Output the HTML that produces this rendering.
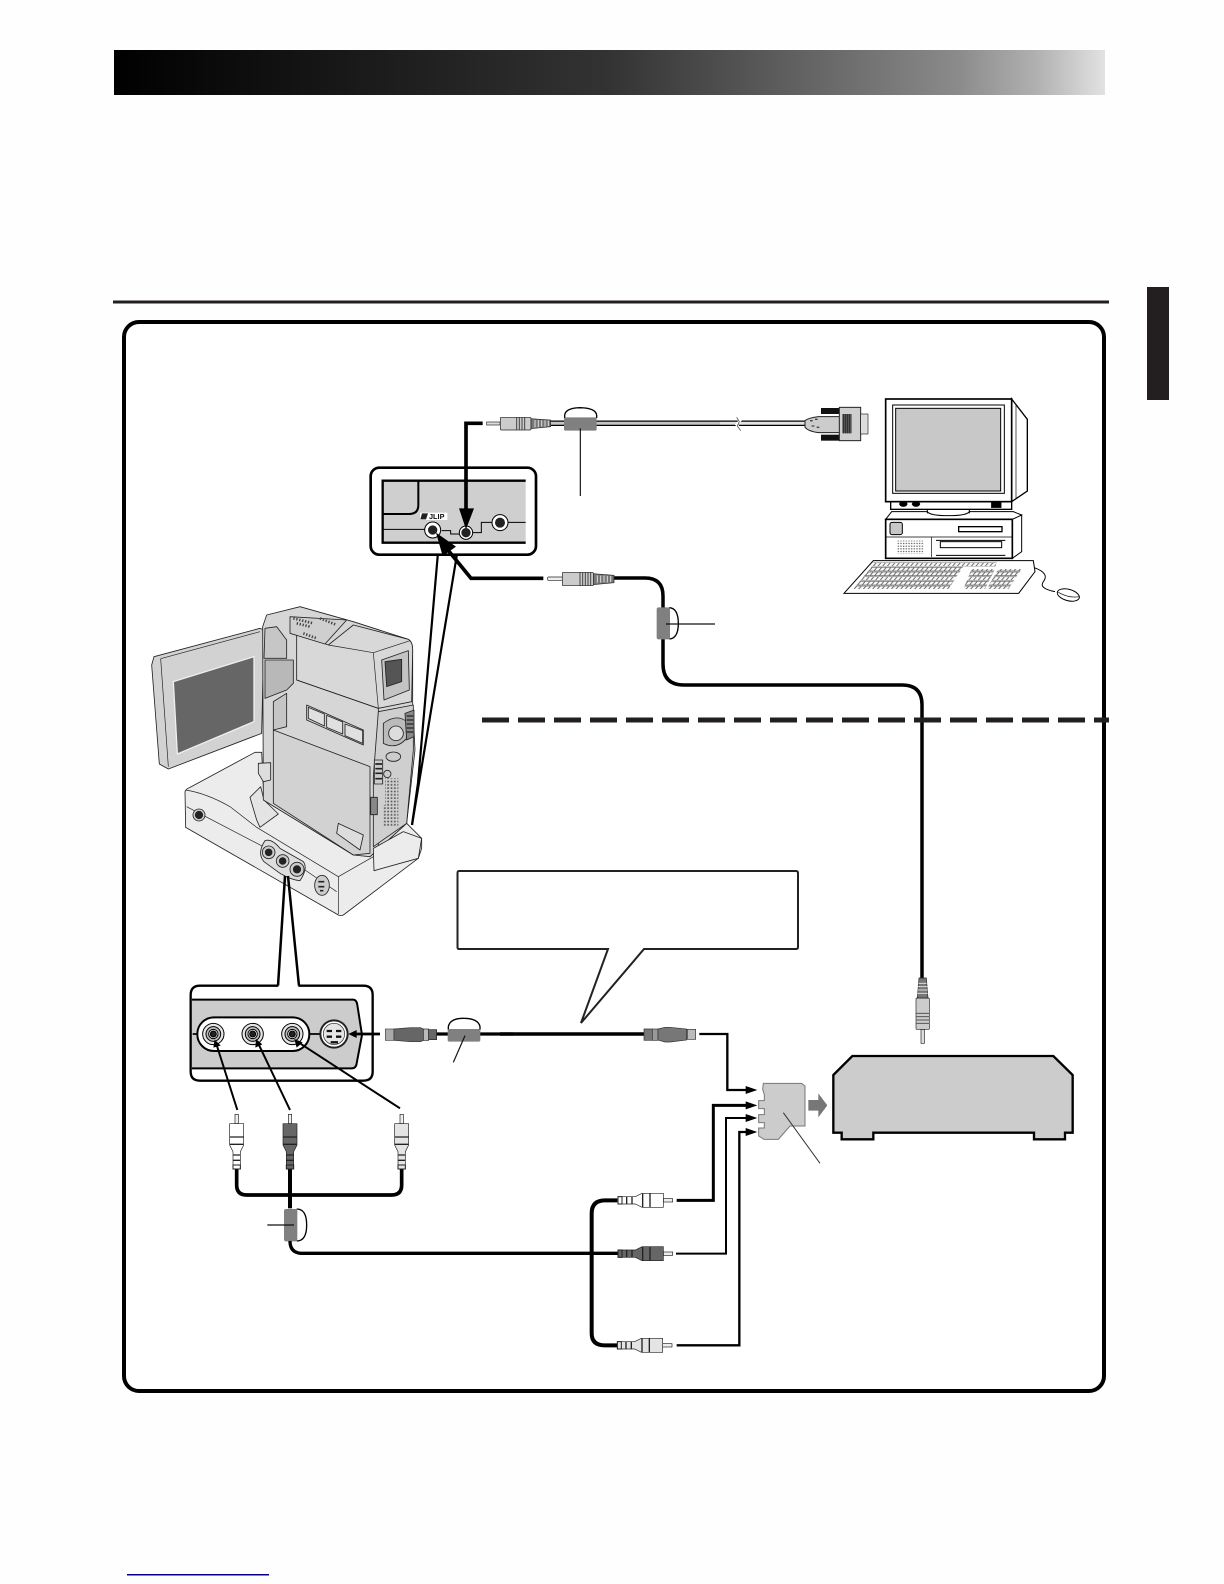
<!DOCTYPE html>
<html><head><meta charset="utf-8"><style>
html,body{margin:0;padding:0;background:#fff}
svg{display:block}
</style></head><body>
<svg width="1224" height="1584" viewBox="0 0 1224 1584" xmlns="http://www.w3.org/2000/svg" font-family="Liberation Sans, sans-serif">
<defs>
<linearGradient id="hg" x1="0" x2="1" y1="0" y2="0"><stop offset="0" stop-color="#000"/><stop offset=".25" stop-color="#1a1a1a"/><stop offset=".5" stop-color="#333"/><stop offset=".62" stop-color="#505050"/><stop offset=".75" stop-color="#707070"/><stop offset=".85" stop-color="#8a8a8a"/><stop offset=".93" stop-color="#b0b0b0"/><stop offset="1" stop-color="#e2e2e2"/></linearGradient>
<pattern id="keys" width="14" height="14" patternUnits="userSpaceOnUse" patternTransform="skewX(-40)"><rect width="14" height="14" fill="#fff"/><rect x="1" y="1" width="12" height="11" fill="#f8f8f8" stroke="#444" stroke-width="1.500"/></pattern>
<pattern id="vent" width="8" height="8" patternUnits="userSpaceOnUse"><rect x="1" y="2" width="4" height="3" fill="#444"/></pattern>
<pattern id="spk" width="10" height="10" patternUnits="userSpaceOnUse"><rect x="2" y="2" width="5" height="5" fill="#555"/></pattern>
<g id="rca" stroke="#222" stroke-width="2">
<rect x="-5" y="0" width="10" height="28" fill="#eee"/>
<path d="M-21 28H21V92L11 112V164H-11V112L-21 92Z"/>
<path d="M-21 68H21M-20 90H20" fill="none" stroke-width="4"/>
<path d="M-11 122H11M-11 138H11" fill="none" stroke-width="4"/>
<rect x="-11" y="152" width="22" height="12" fill="none" stroke-width="3"/>
</g>
<g id="mj" stroke="#222" stroke-width="2">
<rect x="-5" y="0" width="10" height="42" fill="#ddd"/>
<rect x="-20" y="42" width="40" height="94" rx="3" fill="#ccc"/>
<path d="M-20 60H20M-20 70H20M-20 80H20M-20 90H20" stroke="#555" stroke-width="3" fill="none"/>
<path d="M-16 136H16L11 196H-11Z" fill="#777"/>
<path d="M-15 150H15M-14 160H14M-14 170H14M-12 180H12" stroke="#ddd" stroke-width="3"/>
</g>
</defs>

<rect width="1224" height="1584" fill="#fefefe"/>
<rect x="114" y="50" width="991" height="45" fill="url(#hg)"/>
<rect x="113" y="300.500" width="996" height="3" fill="#231f20"/>
<rect x="1147" y="287" width="22" height="113" fill="#231f20"/>
<rect x="124" y="322" width="980" height="1069" rx="15" fill="#fff" stroke="#000" stroke-width="4"/>
<rect x="127" y="1574" width="142" height="1.500" fill="#00008b"/>

<!-- long cable from mid plug to VCR -->
<path d="M614 578H645Q663 578 663 596V664Q663 685 684 685H902Q922 685 922 705V978" fill="none" stroke="#000" stroke-width="3.500"/>
<path d="M482 720H1109" stroke="#231f20" stroke-width="5" stroke-dasharray="27 9" fill="none"/>

<!-- top cable -->
<path d="M550 423.300H805" stroke="#000" stroke-width="5.500"/>
<path d="M550 423.300H720" stroke="#c4c4c4" stroke-width="3"/>
<path d="M720 423.300H805" stroke="#e2e2e2" stroke-width="3"/>

<!-- Zoom 2 group -->
<g transform="translate(360 390) scale(.33333)">
<rect x="32" y="233" width="496" height="261" rx="26" fill="#fff" stroke="#000" stroke-width="8"/>
<path d="M497 272H68V458H497Z" fill="#cfcfcf"/>
<path d="M497 272H68V458H497" fill="none" stroke="#000" stroke-width="7"/>
<path d="M175 272V345Q175 372 148 372H68" fill="none" stroke="#000" stroke-width="6"/>
<path d="M68 418H195M245 422H272V432H298M338 428H364V397H397M445 397H497" fill="none" stroke="#000" stroke-width="3"/>
<circle cx="218" cy="420" r="24" fill="#fff" stroke="#000" stroke-width="3"/><circle cx="218" cy="420" r="14" fill="#222"/>
<circle cx="318" cy="428" r="20" fill="#fff" stroke="#000" stroke-width="3"/><circle cx="318" cy="428" r="14" fill="#222"/>
<circle cx="420" cy="398" r="24" fill="#fff" stroke="#000" stroke-width="3"/><circle cx="420" cy="398" r="15" fill="#222"/>
<rect x="180" y="368" width="82" height="22" fill="#fff"/>
<path d="M186 370H204L198 388H181Z" fill="#222"/>
<text x="207" y="387" font-size="22" font-weight="bold" fill="#111">JLIP</text>
<path d="M368 100H318V365" fill="none" stroke="#000" stroke-width="11"/>
<path d="M297 355H342L318 418Z" fill="#000"/>
<path d="M550 565H333L262 478" fill="none" stroke="#000" stroke-width="11"/>
<path d="M228 428L288 470 248 498Z" fill="#000"/>
<rect x="380" y="96" width="40" height="9" fill="#ddd" stroke="#222" stroke-width="2"/>
<rect x="421" y="82" width="92" height="38" rx="3" fill="#ccc" stroke="#222" stroke-width="2"/>
<path d="M470 82V120M478 82V120M486 82V120M494 82V120" stroke="#444" stroke-width="3"/>
<path d="M513 86L572 90V110L513 116Z" fill="#777" stroke="#222" stroke-width="2"/>
<path d="M525 90V112M535 90V112M545 91V110M555 91V110M565 92V108" stroke="#ddd" stroke-width="3"/>
<path d="M614 84V76Q616 54 660 53Q708 54 710 76V84" fill="none" stroke="#000" stroke-width="4"/>
<rect x="612" y="82" width="98" height="40" rx="5" fill="#808080"/>
<path d="M661 115V318" stroke="#111" stroke-width="3.500"/>
<rect x="563" y="561" width="44" height="10" rx="3" fill="#eee" stroke="#222" stroke-width="2"/>
<rect x="607" y="547" width="93" height="40" rx="3" fill="#ccc" stroke="#222" stroke-width="2"/>
<path d="M660 547V587M668 547V587M676 547V587M684 547V587M692 547V587" stroke="#444" stroke-width="3"/>
<path d="M700 551L762 556V578L700 584Z" fill="#777" stroke="#222" stroke-width="2"/>
<path d="M712 556V578M722 557V578M732 557V577M742 558V577M752 558V576" stroke="#ddd" stroke-width="3"/>
<path d="M928 653Q955 655 955 700Q955 745 928 747" fill="none" stroke="#000" stroke-width="4"/>
<rect x="890" y="652" width="40" height="96" rx="6" fill="#808080"/>
<path d="M918 702H1065" stroke="#111" stroke-width="3.500"/>
</g>

<path d="M437.700 556L418 783M456.700 556L412 825" stroke="#000" stroke-width="2.200" fill="none"/>

<!-- Connector -->
<g transform="translate(640 390) scale(.33333)">
<path d="M286 82L300 92 290 104 304 122" fill="none" stroke="#fff" stroke-width="8"/>
<path d="M290 82L298 95 292 108 302 122" fill="none" stroke="#333" stroke-width="2"/>
<path d="M495 92Q505 84 535 80H600V128H535Q505 124 495 112Z" fill="#ccc" stroke="#222" stroke-width="3"/>
<path d="M510 92h8M525 88h8M515 108h8M530 112h8" stroke="#444" stroke-width="4"/>
<rect x="543" y="54" width="62" height="18" fill="#111"/>
<rect x="543" y="134" width="62" height="18" fill="#111"/>
<rect x="598" y="52" width="64" height="100" fill="#cfcfcf" stroke="#222" stroke-width="3"/>
<rect x="607" y="72" width="28" height="58" fill="#555"/>
<path d="M611 72V130M617 72V130M623 72V130M629 72V130" stroke="#222" stroke-width="2"/>
<rect x="662" y="72" width="22" height="60" fill="#ddd" stroke="#222" stroke-width="2"/>
</g>

<!-- Computer -->
<g transform="translate(820 385) scale(.33333)" stroke="#000" fill="#fff">
<path d="M575 42L622 103V318L575 350Z" stroke-width="4"/>
<path d="M588 60V340" stroke-width="2" fill="none"/>
<rect x="212" y="350" width="363" height="23" stroke-width="4"/>
<ellipse cx="250" cy="357" rx="12" ry="8" fill="#000"/><ellipse cx="288" cy="357" rx="12" ry="8" fill="#000"/>
<rect x="514" y="352" width="30" height="16" fill="#000"/>
<rect x="197" y="42" width="378" height="308" stroke-width="5"/>
<rect x="218" y="60" width="335" height="265" stroke-width="3"/>
<rect x="227" y="70" width="315" height="248" fill="#c8c8c8" stroke-width="3"/>
<path d="M197 403L215 380H322Q330 392 385 392Q440 392 448 380H580L605 390L577 405Z" stroke-width="3"/>
<path d="M322 373V385M448 373V385" stroke-width="3"/>
<path d="M577 403L605 390V500L577 520Z" stroke-width="3"/>
<rect x="197" y="403" width="380" height="117" stroke-width="5"/>
<rect x="210" y="412" width="37" height="37" rx="6" fill="#c8c8c8" stroke-width="3"/>
<rect x="416" y="425" width="130" height="15" stroke-width="4"/>
<path d="M197 456H577" stroke-width="2" fill="none"/>
<path d="M334 456V516" stroke-width="2" fill="none"/>
<path d="M348 466H556M348 511H556" stroke-width="3" fill="none"/>
<rect x="361" y="470" width="184" height="18" stroke-width="3"/>
<rect x="230" y="467" width="80" height="40" fill="url(#vent)" stroke="none"/>
<path d="M72 625L160 527H640L645 560L596 625Z" stroke-width="3"/>
<path d="M155 545H430L385 612H100Z" fill="url(#keys)" stroke="none"/>
<path d="M160 532H530L526 544H154Z" fill="url(#keys)" stroke="none"/>
<path d="M455 552H525L495 612H430Z" fill="url(#keys)" stroke="none"/>
<path d="M535 552H605L565 612H500Z" fill="url(#keys)" stroke="none"/>
<path d="M643 548Q690 565 670 590Q655 610 705 620" fill="none" stroke-width="3"/>
<ellipse cx="745" cy="630" rx="34" ry="17" transform="rotate(15 745 630)" stroke-width="3"/>
<path d="M715 622Q745 640 778 635" fill="none" stroke-width="2"/>
</g>

<!-- Camera -->
<g transform="translate(140 590) scale(.33333)" stroke="#222" stroke-width="2.500" stroke-linejoin="round">
<!-- dock -->
<path d="M135 605Q137 597 150 592L345 487H365L372 630L690 800L800 700L845 745V775L835 805L610 975Q600 980 590 972L137 712Z" fill="#ececec"/>
<path d="M137 600Q200 610 270 650L350 712L595 860L700 800M595 860V972" fill="none" stroke-width="2"/>
<path d="M140 650L370 770M495 840L590 905" fill="none" stroke-width="2"/>
<path d="M330 622L362 590L372 630L415 672L360 712L350 690Z" fill="#e4e4e4"/>
<circle cx="177" cy="675" r="18" fill="#ccc"/><circle cx="177" cy="675" r="11" fill="#222"/>
<path d="M375 752Q395 745 420 775L490 815Q505 835 480 872Q455 870 420 850L372 815Q350 790 375 752Z" fill="#ddd"/>
<circle cx="386" cy="787" r="19" fill="#ccc"/><circle cx="386" cy="787" r="10" fill="#222"/>
<circle cx="428" cy="813" r="19" fill="#ccc"/><circle cx="428" cy="813" r="10" fill="#222"/>
<circle cx="471" cy="838" r="21" fill="#ccc"/><circle cx="471" cy="838" r="11" fill="#222"/>
<ellipse cx="546" cy="886" rx="22" ry="30" fill="#ccc"/><path d="M535 875h18M535 890h18M540 902h10" stroke-width="5"/>
<!-- LCD -->
<path d="M42 200L360 115L372 120L365 430L85 537L58 522L35 225Z" fill="#d2d2d2"/>
<path d="M62 206L360 125M62 206L85 530" fill="none" stroke-width="2"/>
<path d="M100 275L342 200L342 395L112 492Z" fill="#666" stroke="#eee" stroke-width="4"/>
<!-- body -->
<path d="M368 110L380 75L480 50L640 95L805 148Q818 155 818 180V340L825 480L800 700L690 800L640 795L370 630Z" fill="#d6d6d6"/>
<path d="M375 115L410 110L440 150V205H372Z" fill="#c6c6c6"/>
<path d="M375 210H460V280L440 300L375 325Z" fill="#b8b8b8"/>
<path d="M400 335L440 310V410L400 420Z" fill="#c6c6c6"/>
<path d="M470 130L565 165L640 105L805 148Q818 155 818 180L815 335L715 355L470 270Z" fill="#d8d8d8"/>
<path d="M565 165L700 188L810 152M700 188L715 355" fill="none" stroke-width="2"/>
<path d="M450 80L620 90L555 162L450 130Z" fill="#cfcfcf"/>
<path d="M460 85l60 15M540 85l50 20M490 130l40 15M470 100l40 10" stroke="#444" stroke-width="8" stroke-dasharray="4 5" fill="none"/>
<path d="M725 210L805 182L808 300L732 330Z" fill="#c4c4c4"/>
<path d="M735 215L785 208V275L740 290Z" fill="#555"/>
<path d="M470 270L715 355V790" fill="none"/>
<path d="M500 345L670 420V465L500 390Z" fill="#cfcfcf"/>
<path d="M505 352L553 372V408L505 385Z" fill="#e0e0e0"/>
<path d="M560 376L608 396V432L560 412Z" fill="#e0e0e0"/>
<path d="M615 402L668 422V460L615 437Z" fill="#e0e0e0"/>
<path d="M400 420L690 530V790L640 795L400 640Z" fill="#d2d2d2"/>
<path d="M595 700L670 735L660 780L590 730Z" fill="#ddd"/>
<path d="M715 365L820 345V480L800 700L700 770V560Z" fill="#cfcfcf"/>
<path d="M730 400Q770 370 800 395V445Q770 480 730 460Z" fill="#bbb"/>
<circle cx="768" cy="430" r="22" fill="#ddd"/>
<path d="M795 370L822 360V440L800 450Z" fill="#888"/>
<path d="M800 378h20M800 390h20M800 402h20M800 414h20M800 426h20" stroke-width="4"/>
<ellipse cx="760" cy="500" rx="22" ry="14" fill="#ccc"/>
<rect x="703" y="510" width="25" height="72" fill="#ccc"/>
<path d="M706 522h20M706 536h20M706 550h20M706 566h20" stroke-width="5"/>
<circle cx="742" cy="552" r="11" fill="#ccc"/>
<rect x="692" y="622" width="20" height="52" fill="#888"/>
<rect x="735" y="565" width="40" height="80" fill="url(#spk)" stroke="none"/>
<rect x="730" y="645" width="45" height="65" fill="url(#spk)" stroke="none"/>
<path d="M355 520L392 518V570L370 575L355 550Z" fill="#ddd"/>
<path d="M700 775L790 725L845 745L835 805L702 842Z" fill="#ececec"/>
</g>
<path d="M418 783L412 825" stroke="#000" stroke-width="2.200"/>

<!-- AV Panel -->
<path d="M285 876L278 986M288 876L299 986" fill="none" stroke="#000" stroke-width="2.500"/>
<g transform="translate(180 965) scale(.33333)">
<path d="M295 62H60Q32 62 32 90V320Q32 347 60 347H550Q578 347 578 320V90Q578 62 550 62H355" fill="#fff" stroke="#000" stroke-width="7"/>
<path d="M36 105H520Q530 105 532 120L546 210L530 295Q528 310 515 310H36Z" fill="#ccc"/>
<path d="M36 104H520Q530 105 532 120L546 210L530 295Q528 310 515 310H36" fill="none" stroke="#000" stroke-width="6"/>
<path d="M38 207H52M388 207H420" stroke="#000" stroke-width="5"/>
<rect x="52" y="157" width="336" height="101" rx="50" fill="#fff" stroke="#000" stroke-width="6"/>
<g fill="#e6e6e6" stroke="#000" stroke-width="3">
<circle cx="100" cy="207" r="32"/><circle cx="100" cy="207" r="22" fill="#bbb"/><circle cx="100" cy="207" r="14" fill="#fff"/><circle cx="100" cy="207" r="9" fill="#222"/>
<circle cx="218" cy="207" r="32"/><circle cx="218" cy="207" r="22" fill="#bbb"/><circle cx="218" cy="207" r="14" fill="#fff"/><circle cx="218" cy="207" r="9" fill="#222"/>
<circle cx="337" cy="207" r="32"/><circle cx="337" cy="207" r="22" fill="#bbb"/><circle cx="337" cy="207" r="14" fill="#fff"/><circle cx="337" cy="207" r="9" fill="#222"/>
</g>
<circle cx="462" cy="207" r="44" fill="#222"/><circle cx="462" cy="207" r="38" fill="#fff"/><circle cx="462" cy="207" r="32" fill="#e6e6e6" stroke="#222" stroke-width="2"/>
<path d="M440 198h16M468 198h16M440 215h16M468 215h16M452 232h22" stroke="#111" stroke-width="7"/>
<path d="M172 435L110 240M330 435L236 238M660 430L355 232" fill="none" stroke="#000" stroke-width="6"/>
<path d="M104 224L122 242 100 248Z M228 222L247 238 226 248Z M343 222L368 232 350 248Z" fill="#000"/>
<path d="M600 207H525" stroke="#000" stroke-width="8"/>
<path d="M505 207L530 195V219Z" fill="#000"/>
<rect x="616" y="192" width="26" height="34" fill="#aaa" stroke="#444" stroke-width="2"/>
<path d="M642 192L690 188H722L730 192V226L722 230H690L642 226Z" fill="#666" stroke="#333" stroke-width="2"/>
<rect x="730" y="192" width="16" height="34" fill="#bbb" stroke="#222" stroke-width="2"/>
<rect x="746" y="194" width="24" height="30" fill="#666" stroke="#222" stroke-width="2"/>
<path d="M770 207H1000" stroke="#000" stroke-width="10"/>
<path d="M805 194V185Q810 160 850 160Q895 160 900 185V194" fill="none" stroke="#000" stroke-width="4"/>
<rect x="803" y="192" width="98" height="38" rx="5" fill="#808080"/>
<path d="M855 212L820 292" stroke="#111" stroke-width="3.500"/>
<path d="M170 612V660Q170 690 200 690H635Q665 690 665 660V612" fill="none" stroke="#000" stroke-width="11"/>
<path d="M330 612V730" fill="none" stroke="#000" stroke-width="12"/>
<use href="#rca" x="170" y="448" fill="#fff"/>
<use href="#rca" x="330" y="448" fill="#666"/>
<use href="#rca" x="665" y="448" fill="#e4e4e4"/>
<path d="M350 732Q380 732 380 780Q380 828 350 828" fill="none" stroke="#000" stroke-width="4"/>
<rect x="312" y="732" width="40" height="97" rx="6" fill="#808080"/>
<path d="M262 780H342" stroke="#111" stroke-width="3.500"/>
<path d="M330 828Q330 862 362 865H1315" fill="none" stroke="#000" stroke-width="10"/>
</g>

<!-- S cable right -->
<path d="M500 1034H645" stroke="#000" stroke-width="3.500"/>

<!-- callout -->
<path d="M608 949H459Q457.500 949 457.500 947V873Q457.500 871 459 871H796Q798 871 798 873V947Q798 949 796 949H644L581 1023Z" fill="#fff" stroke="#222" stroke-width="2"/>

<!-- Zoom 5 -->
<g transform="translate(570 1000) scale(.33333)">
<path d="M222 87H247V121H222Z" fill="#777" stroke="#333" stroke-width="2"/>
<rect x="247" y="87" width="17" height="34" fill="#999" stroke="#333" stroke-width="2"/>
<path d="M264 87L285 82H300L350 87V120L300 126H285L264 120Z" fill="#777" stroke="#333" stroke-width="2"/>
<rect x="352" y="88" width="25" height="30" fill="#bbb" stroke="#333" stroke-width="2"/>
<path d="M388 102H472V270H535" fill="none" stroke="#000" stroke-width="7"/>
<path d="M320 601H430V316H535" fill="none" stroke="#000" stroke-width="9"/>
<path d="M318 761H468V354H535" fill="none" stroke="#000" stroke-width="6"/>
<path d="M320 1036H508V396H535" fill="none" stroke="#000" stroke-width="7"/>
<path d="M527 258L562 270 527 282ZM527 304L562 316 527 328ZM527 342L562 354 527 366ZM527 384L562 396 527 408Z" fill="#000"/>
<path d="M580 250H695L705 258V378H660L625 418H582L566 408V384H583V368H566V344H583V326H566V302H583V284L578 268Z" fill="#ccc" stroke="#777" stroke-width="3"/>
<path d="M715 300H745V280L772 316L745 352V332H715Z" fill="#777"/>
<path d="M640 338L750 490" stroke="#333" stroke-width="3"/>
<path d="M142 601H105Q65 601 65 640V1000Q65 1036 105 1036H142" fill="none" stroke="#000" stroke-width="12"/>
<use href="#rca" transform="translate(308 601) rotate(90)" fill="#fff"/>
<use href="#rca" transform="translate(308 761) rotate(90)" fill="#666"/>
<use href="#rca" transform="translate(306 1036) rotate(90)" fill="#e4e4e4"/>
</g>

<!-- VCR -->
<g transform="translate(820 960) scale(.33333)">
<path d="M40 345L97 288H700L758 345V518H735V538H642V518H160V538H65V518H40Z" fill="#ccc" stroke="#000" stroke-width="7"/>
<use href="#mj" transform="translate(308 250) rotate(180)"/>
</g>
</svg>
</body></html>
